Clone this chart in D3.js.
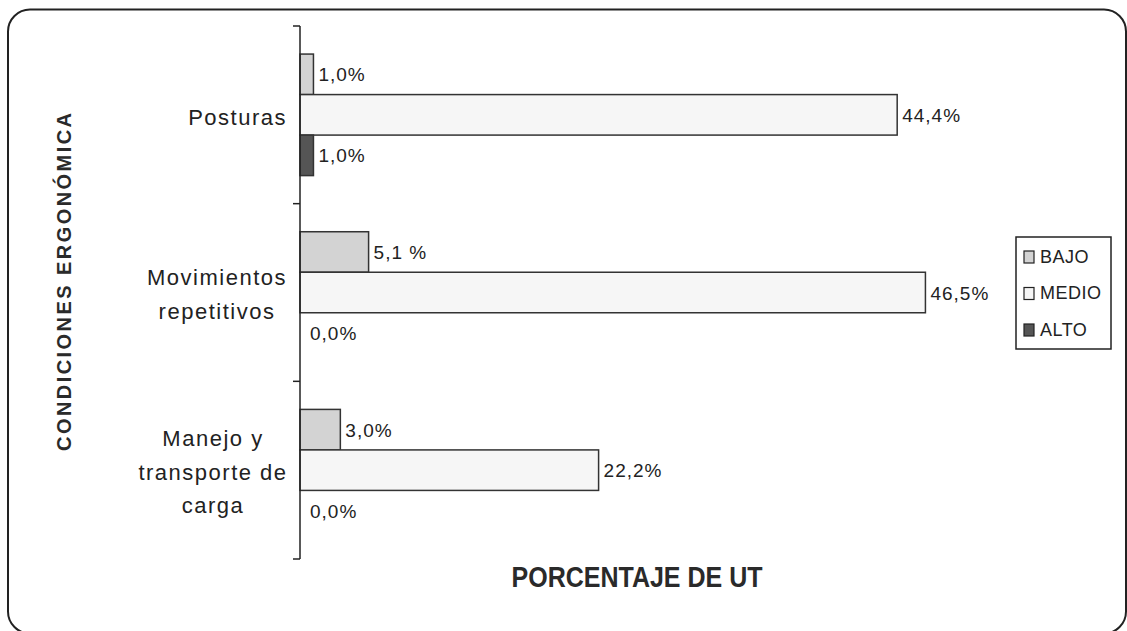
<!DOCTYPE html>
<html lang="es">
  <head>
    <meta charset="utf-8" />
    <title>Condiciones ergonómicas</title>
    <script type="text/javascript" src="https://d3js.org/d3.v7.min.js"></script>
    <style>
      body { margin: 0; background: #fff; }
      text { font-family: "Liberation Sans", Arial, sans-serif; fill: #222; }
    </style>
  </head>
  <body>
    <div id="chart"></div>
    <script type="text/javascript">
      /********************************
       * data
       ********************************/
      const categories = [
        ["Posturas"],
        ["Movimientos", "repetitivos"],
        ["Manejo y", "transporte de", "carga"],
      ];
      const series = ["BAJO", "MEDIO", "ALTO"];
      const bajo = [1.0, 5.1, 3.0];
      const medio = [44.4, 46.5, 22.2];
      const alto = [1.0, 0.0, 0.0];
      const valueLabels = [
        ["1,0%", "44,4%", "1,0%"],
        ["5,1 %", "46,5%", "0,0%"],
        ["3,0%", "22,2%", "0,0%"],
      ];
      const colors = ["#d3d3d3", "#f6f6f6", "#555555"];

      const values = [bajo, medio, alto];

      /********************************
       * svg
       ********************************/
      const width = 1127;
      const height = 631;

      const svg = d3
        .select("#chart")
        .append("svg")
        .attr("width", width)
        .attr("height", height);

      // rounded frame (bottom edge runs just past the page border)
      svg
        .append("rect")
        .attr("x", 8)
        .attr("y", 9.5)
        .attr("width", 1118)
        .attr("height", 624)
        .attr("rx", 22)
        .attr("fill", "#fff")
        .attr("stroke", "#222")
        .attr("stroke-width", 2);

      const plot = { left: 300, top: 26, bottom: 559 };

      /********************************
       * scales
       ********************************/
      const y = d3
        .scaleBand()
        .domain(d3.range(categories.length))
        .range([plot.top, plot.bottom])
        .paddingInner(0.316)
        .paddingOuter(0.158);

      const ySub = d3.scaleBand().domain(series).range([0, y.bandwidth()]);

      const x = d3.scaleLinear().domain([0, 50]).range([plot.left, plot.left + 672.5]);

      /********************************
       * bars + value labels
       ********************************/
      const groups = svg
        .selectAll("g.group")
        .data(categories)
        .enter()
        .append("g")
        .attr("class", "group")
        .attr("transform", (d, i) => `translate(0,${y(i)})`);

      groups.each(function (cat, i) {
        const g = d3.select(this);
        series.forEach((s, j) => {
          const v = values[j][i];
          if (v > 0) {
            g.append("rect")
              .attr("x", x(0))
              .attr("y", ySub(s))
              .attr("width", x(v) - x(0))
              .attr("height", ySub.bandwidth())
              .attr("fill", colors[j])
              .attr("stroke", "#333")
              .attr("stroke-width", 1.5);
          }
          g.append("text")
            .attr("x", x(v) + (v > 0 ? 5 : 10))
            .attr("y", ySub(s) + ySub.bandwidth() / 2 + 2)
            .attr("dominant-baseline", "middle")
            .style("font-size", "19px")
            .style("letter-spacing", "1px")
            .text(valueLabels[i][j]);
        });
      });

      /********************************
       * axis
       ********************************/
      const axisG = svg
        .append("g")
        .attr("transform", `translate(${plot.left},0)`);

      axisG
        .append("line")
        .attr("y1", plot.top)
        .attr("y2", plot.bottom)
        .attr("stroke", "#222")
        .attr("stroke-width", 1.5);

      // ticks at category boundaries
      axisG
        .selectAll("line.tick")
        .data(d3.range(categories.length + 1))
        .enter()
        .append("line")
        .attr("class", "tick")
        .attr("x1", -7)
        .attr("x2", 0)
        .attr("y1", (i) => plot.top + ((plot.bottom - plot.top) / categories.length) * i)
        .attr("y2", (i) => plot.top + ((plot.bottom - plot.top) / categories.length) * i)
        .attr("stroke", "#222")
        .attr("stroke-width", 1.5);

      // category labels
      const labelG = svg
        .selectAll("text.cat")
        .data(categories)
        .enter()
        .append("text")
        .attr("class", "cat")
        .attr("text-anchor", (d) => (d.length === 1 ? "end" : "middle"))
        .attr("x", (d) => (d.length === 1 ? 287 : d.length === 2 ? 217 : 213))
        .attr("y", (d, i) => y(i) + y.bandwidth() / 2 + 2 - ((d.length - 1) * 33.5) / 2)
        .style("font-size", "22px")
        .style("letter-spacing", "1.5px");

      labelG
        .selectAll("tspan")
        .data((d) => d)
        .enter()
        .append("tspan")
        .attr("x", function () {
          return d3.select(this.parentNode).attr("x");
        })
        .attr("dy", (d, i) => (i === 0 ? "0.35em" : 33.5))
        .text((d) => d);

      /********************************
       * titles
       ********************************/
      svg
        .append("text")
        .attr("transform", "translate(71,282) rotate(-90)")
        .attr("text-anchor", "middle")
        .attr("textLength", 338)
        .attr("lengthAdjust", "spacing")
        .style("font-size", "20px")
        .style("font-weight", "bold")
        .style("fill", "#2a2a2a")
        .text("CONDICIONES ERGONÓMICA");

      svg
        .append("text")
        .attr("x", 637)
        .attr("y", 587)
        .attr("text-anchor", "middle")
        .attr("textLength", 251)
        .attr("lengthAdjust", "spacingAndGlyphs")
        .style("font-size", "29px")
        .style("font-weight", "bold")
        .style("fill", "#2a2a2a")
        .text("PORCENTAJE DE UT");

      /********************************
       * legend
       ********************************/
      const legend = svg.append("g").attr("transform", "translate(1016,237)");
      legend
        .append("rect")
        .attr("width", 95)
        .attr("height", 112)
        .attr("fill", "#fff")
        .attr("stroke", "#222")
        .attr("stroke-width", 1.5);

      const items = legend
        .selectAll("g.item")
        .data(series)
        .enter()
        .append("g")
        .attr("class", "item")
        .attr("transform", (d, i) => `translate(8,${20 + i * 36.5})`);

      items
        .append("rect")
        .attr("x", 0)
        .attr("y", -6)
        .attr("width", 10)
        .attr("height", 12)
        .attr("fill", (d, i) => colors[i])
        .attr("stroke", "#222")
        .attr("stroke-width", 1.2);

      items
        .append("text")
        .attr("x", 16)
        .attr("y", 1)
        .attr("dominant-baseline", "middle")
        .style("font-size", "18px")
        .style("letter-spacing", "0.5px")
        .text((d) => d);
    </script>
  </body>
</html>
